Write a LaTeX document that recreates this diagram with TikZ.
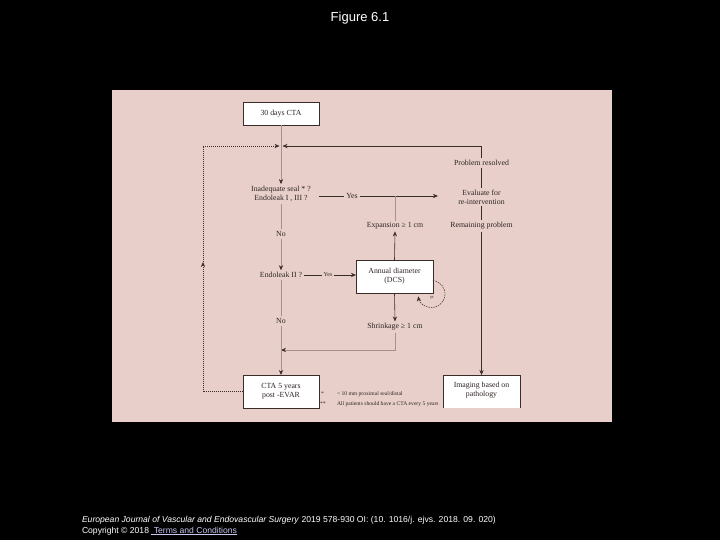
\documentclass[tikz,border=0pt]{standalone}
\usepackage{fontspec}
\setmainfont{Liberation Serif}
\newfontfamily\outerfont{Liberation Sans}
\usetikzlibrary{arrows.meta,calc}
\definecolor{panelpink}{HTML}{E8CFC9}
\definecolor{linedark}{HTML}{3A2C2A}
\definecolor{linegrey}{HTML}{A8908C}
\definecolor{txtdark}{HTML}{2E2624}
\begin{document}
\begin{tikzpicture}[x=1pt,y=-1pt,
  every node/.style={inner sep=0pt,outer sep=0pt},
  lbl/.style={font=\fontsize{7.8}{9.2}\selectfont,text=txtdark,align=center,inner sep=2pt},
  boxn/.style={draw=linedark,fill=white,line width=0.6pt,minimum width=76pt,align=center,font=\fontsize{7.8}{9.2}\selectfont,text=txtdark},
  fn/.style={font=\fontsize{5.6}{6.5}\selectfont,text=txtdark,anchor=west},
  dk/.style={draw=linedark,line width=0.6pt},
  gr/.style={draw=linegrey,line width=0.6pt},
  arr/.style={-{Stealth[length=5pt,width=4.2pt,color=linedark]}},
  dotl/.style={draw=linedark,line width=0.6pt,dash pattern=on 1pt off 1pt}]
% background
\fill[black] (0,0) rectangle (720,540);
\useasboundingbox (0,0) rectangle (720,540);
\fill[panelpink] (112,90) rectangle (612,422);
% outer texts
\node[font=\outerfont\fontsize{13}{15}\selectfont,text=white] (title) at (360,18) {Figure 6.1};
\node[font=\outerfont\fontsize{8.6}{10}\selectfont,text=white,anchor=west] (foot1) at (82,520) {\textit{European Journal of Vascular and Endovascular Surgery} 2019 578-930 OI: (10. 1016/j. ejvs. 2018. 09. 020)};
\node[font=\outerfont\fontsize{8.6}{10}\selectfont,text=white,anchor=west] (foot2) at (82,531) {Copyright \textcopyright{} 2018 \textcolor[HTML]{C8C8F0}{\underline{ Terms and Conditions}}};
% boxes
\node[boxn,minimum height=23pt] (b1) at (281,113.5) {30 days CTA};
\node[boxn,minimum width=77pt,minimum height=33pt] (b2) at (394.5,276.5) {Annual diameter\\(DCS)};
\node[boxn,minimum height=33pt] (b3) at (281,391.5) {CTA 5 years\\post -EVAR};
\fill[white] (443,375) rectangle (520,408);
\draw[dk] (443,408) -- (443,375) -- (520,375) -- (520,408);
\node[font=\fontsize{7.8}{9.2}\selectfont,text=txtdark,align=center] (b4) at (481.5,390) {Imaging based on\\pathology};
\coordinate (b4n) at (481.5,375);
% texts
\coordinate (m) at (281,146);
\node[lbl] (q1) at (281,194) {Inadequate seal * ?\\Endoleak I , III ?};
\node[lbl] (y1) at (352,196) {Yes};
\node[lbl] (ev) at (481.5,197) {Evaluate for\\re-intervention};
\node[lbl] (pr) at (481.5,163) {Problem resolved};
\node[lbl] (rp) at (481.5,226) {Remaining problem};
\node[lbl] (ex) at (395,226) {Expansion ≥ 1 cm};
\node[lbl] (n1) at (281,234) {No};
\node[lbl] (q2) at (281,275) {Endoleak II ?};
\node[lbl,font=\fontsize{6}{7}\selectfont] (y2) at (328,275) {Yes};
\node[lbl] (sh) at (395,327) {Shrinkage ≥ 1 cm};
\node[lbl] (n2) at (281,321) {No};
\coordinate (j) at (281,350);
\coordinate (ej) at (395,196);
\coordinate (q1e) at (319,196);
\coordinate (evw) at (438,196);
\coordinate (b2w) at (356,275);
% footnotes
\node[fn] (s1) at (321,394) {*};
\node[fn] (f1) at (337,394) {< 10 mm proximal seal/distal};
\node[fn] (s2) at (320,404) {**};
\node[fn] (f2) at (337,404) {All patients should have a CTA every 5 years};
% connectors
\draw[gr] (b1.south) -- (m);
\draw[gr,arr] (m) -- (q1.north);
\coordinate (dl1) at (203,391.5);
\coordinate (dl2) at (203,262);
\coordinate (dl3) at (203,146);
\draw[dotl] (b3.west) -- (dl1);
\draw[dotl,arr] (dl1) -- (dl2);
\draw[dotl] (dl2) -- (dl3);
\draw[dotl,arr] (dl3) -- ($(m)+(-1.5,0)$);
\draw[dk,arr] (pr.north) |- ($(m)+(1.5,0)$);
\draw[dk] (q1e) -- (y1.west);
\draw[dk,arr] (y1.east) -- (evw);
\draw[gr] (ex.north) -- (ej);
\draw[dk,arr] (b2.north) -- (ex.south);
\draw[gr] (q1.south) -- (n1.north);
\draw[gr,arr] (n1.south) -- (q2.north);
\draw[dk] (q2.east) -- (y2.west);
\draw[dk,arr] (y2.east) -- (b2w);
\draw[dk,arr] (b2.south) -- (sh.north);
\draw[gr,arr] (sh.south) |- (j);
\draw[gr] (q2.south) -- (n2.north);
\draw[gr,arr] (n2.south) -- (b3.north);
\draw[dk] (pr.south) -- (ev.north);
\draw[dk] (ev.south) -- (rp.north);
\draw[dk,arr] (rp.south) -- (b4n);
% self loop
\coordinate (ls) at (432.9,280.6);
\draw[draw=linedark,line width=0.5pt,dash pattern=on 1.5pt off 1pt,arr] (ls) arc[start angle=-84,end angle=170,radius=13.5];
\node[font=\fontsize{4.5}{5}\selectfont,text=txtdark] (lp) at (432,298) {yr};
\end{tikzpicture}
\end{document}
